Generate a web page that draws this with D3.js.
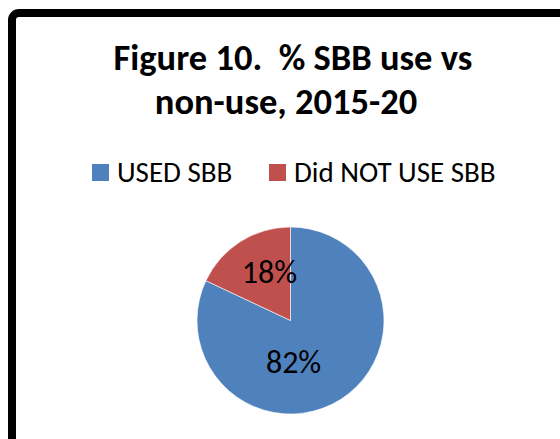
<!DOCTYPE html>
<html>
<head>
<meta charset="utf-8">
<script src="https://cdn.jsdelivr.net/npm/d3@7"></script>
<style>
  body { margin: 0; background: #ffffff; }
  svg { display: block; }
</style>
</head>
<body>
<div id="chart"></div>
<script>
// Chart data
const titleLines = ['Figure 10.  % SBB use vs', 'non-use, 2015-20'];
const categories = ['USED SBB', 'Did NOT USE SBB'];
const values = [82, 18];
const colors = ['#4F81BD', '#C0504D'];

const width = 560, height = 439;
const cx = 290.5, cy = 320.5, radius = 93.5;
const fontFamily = 'Carlito, Lato, "Open Sans", sans-serif';

const svg = d3.select('#chart')
              .append('svg')
              .attr('width', width)
              .attr('height', height);

svg.append('rect')
    .attr('width', width)
    .attr('height', height)
    .style('fill', '#ffffff');

// Thick rounded frame (right and bottom edges fall outside the picture)
svg.append('rect')
    .attr('x', 12)
    .attr('y', 13)
    .attr('width', 600)
    .attr('height', 500)
    .attr('rx', 7)
    .style('fill', 'none')
    .style('stroke', '#000000')
    .style('stroke-width', 8);

// Title, two centred lines
const titleShift = [3, -4];

svg.append('text')
    .attr('text-anchor', 'middle')
    .style('font-family', fontFamily)
    .style('font-weight', 'bold')
    .style('font-size', '36.5px')
    .style('white-space', 'pre')
    .style('fill', '#000000')
    .selectAll('tspan')
    .data(titleLines)
    .enter()
    .append('tspan')
    .attr('x', (d, i) => 290 + titleShift[i])
    .attr('y', (d, i) => 70 + i * 43.5)
    .text(d => d);

// Legend
const legendX = d3.scalePoint().domain(categories).range([92, 269]);

const legend = svg.selectAll('.legend')
                  .data(categories)
                  .enter()
                  .append('g')
                  .attr('class', 'legend')
                  .attr('transform', d => 'translate(' + legendX(d) + ',164)');

legend.append('rect')
    .attr('width', 17)
    .attr('height', 17)
    .style('fill', (d, i) => colors[i]);

legend.append('text')
    .attr('x', 25)
    .attr('y', 17.5)
    .style('font-family', fontFamily)
    .style('font-size', '29px')
    .style('fill', '#000000')
    .text(d => d);

// Pie
const pie = d3.pie().sort(null).value(d => d);
const arcs = pie(values);

const arc = d3.arc().innerRadius(0).outerRadius(radius);
const labelArc = d3.arc().innerRadius(radius * 0.5).outerRadius(radius * 0.5);

const g = svg.append('g')
             .attr('transform', 'translate(' + cx + ',' + cy + ')');

g.selectAll('path')
    .data(arcs)
    .enter()
    .append('path')
    .attr('d', arc)
    .style('fill', (d, i) => colors[i])
    .style('stroke', '#ffffff')
    .style('stroke-width', 0.6);

// nudges so labels sit where the original put them
const labelNudge = [[-22, 2.5], [4, -8]];

g.selectAll('.label')
    .data(arcs)
    .enter()
    .append('text')
    .attr('class', 'label')
    .attr('x', (d, i) => labelArc.centroid(d)[0] + labelNudge[i][0])
    .attr('y', (d, i) => labelArc.centroid(d)[1] + labelNudge[i][1])
    .attr('text-anchor', 'middle')
    .attr('dy', '0.32em')
    .style('font-family', fontFamily)
    .style('font-size', '32px')
    .style('fill', '#000000')
    .text(d => d.data + '%');
</script>
</body>
</html>
